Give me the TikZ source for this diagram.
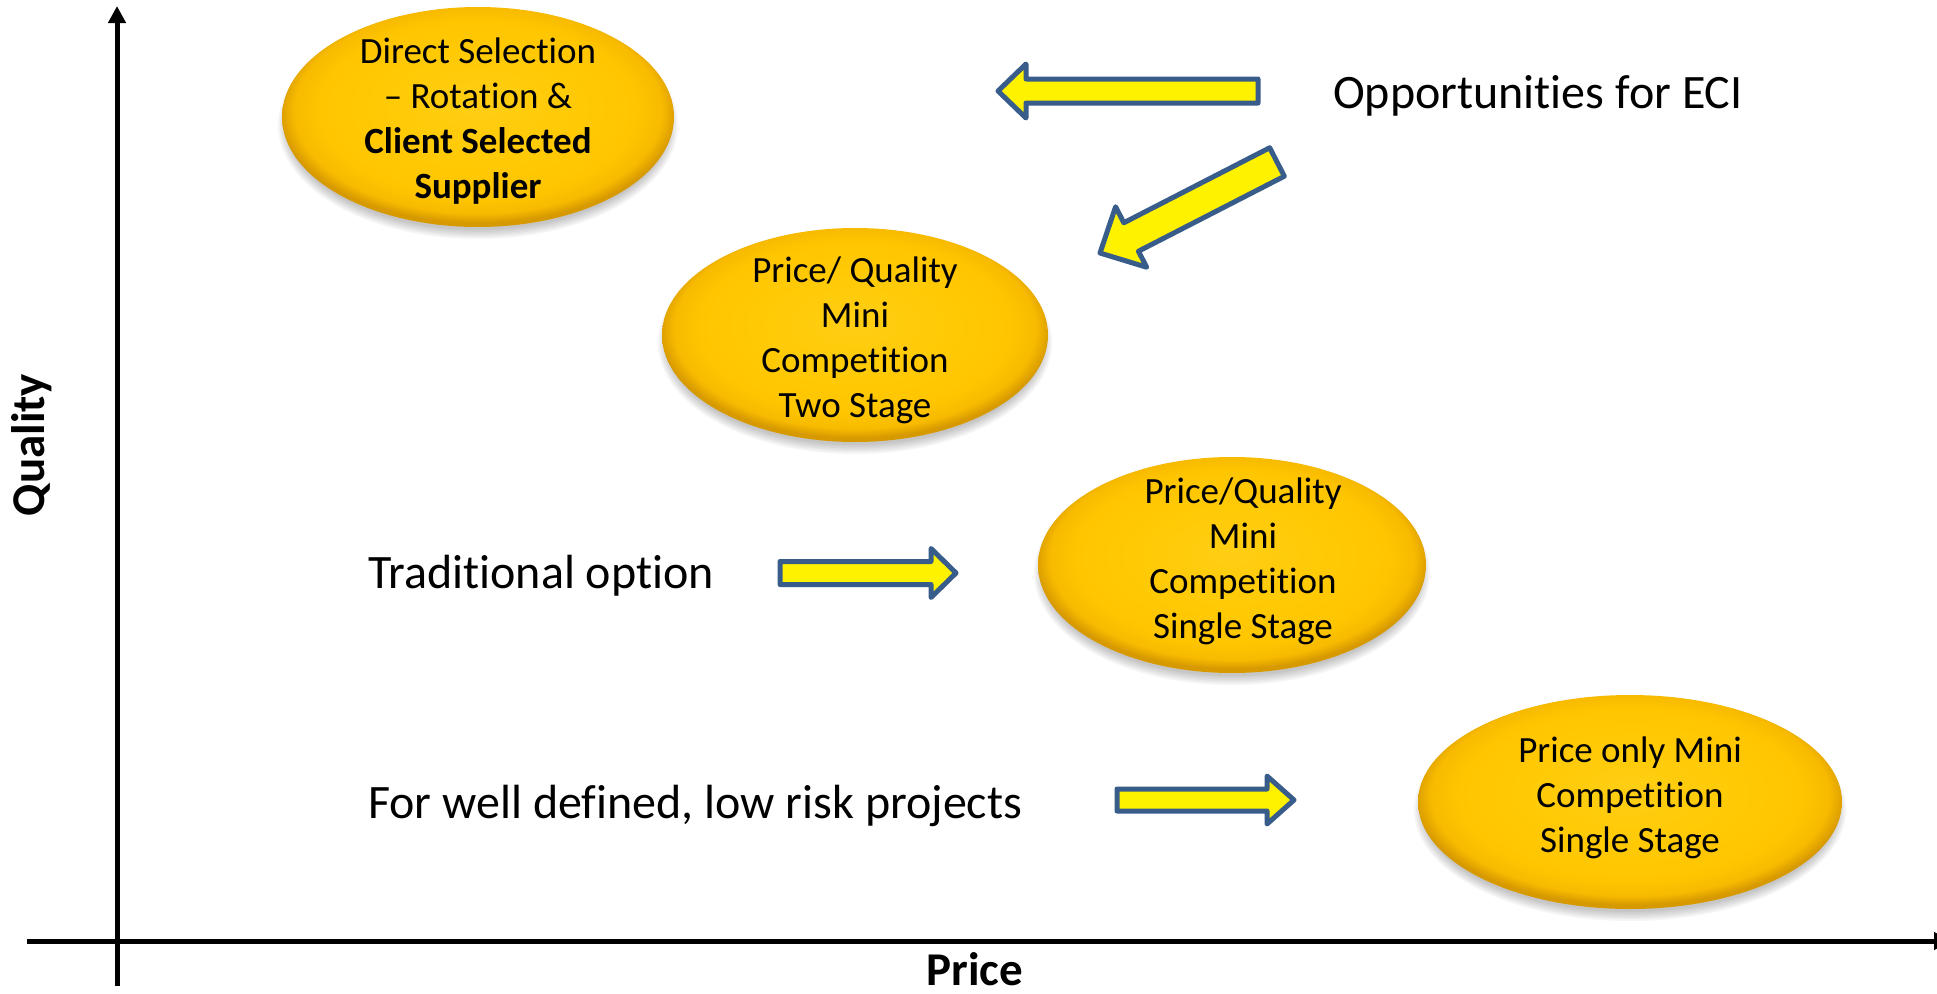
\documentclass[tikz,border=0pt]{standalone}
\usepackage{fontspec}
\setmainfont{Carlito}[Ligatures={NoCommon}]
\usetikzlibrary{calc,arrows.meta,shapes.geometric}
\pgfdeclareradialshading{goldell}{\pgfpoint{0bp}{3bp}}{rgb(0bp)=(1,0.81,0.08); rgb(12bp)=(1,0.79,0.02); rgb(20bp)=(1,0.775,0); rgb(23.5bp)=(0.97,0.73,0); rgb(25.5bp)=(0.84,0.60,0); rgb(50bp)=(0.84,0.60,0)}
\definecolor{arrblue}{RGB}{56,93,138}
\newcommand\softshadow[4]{%
  \foreach \k in {0,...,5}{%
    \fill[black,opacity=0.04] (#1,#2+8) ellipse ({#3-5+1.8*\k} and {#4-5+1.8*\k});
  }}
\newcommand\yarrow[5]{% tail, tip, half shaft, half head, head length
  \path (#1) coordinate (ta) (#2) coordinate (tp);
  \path ($(tp)!#5pt!(ta)$) coordinate (hb);
  \draw[yarr] ($(ta)!#3pt!90:(tp)$) -- ($(hb)!#3pt!90:(tp)$) -- ($(hb)!#4pt!90:(tp)$)
    -- (tp) -- ($(hb)!#4pt!-90:(tp)$) -- ($(hb)!#3pt!-90:(tp)$) -- ($(ta)!#3pt!-90:(tp)$) -- cycle;
}
\begin{document}
\begin{tikzpicture}[x=1pt,y=-1pt,
  axis/.style={line width=5pt, -{Triangle[length=17pt,width=17pt]}},
  yarr/.style={draw=arrblue, fill=yellow, line width=5pt, line join=round},
  goldell/.style={ellipse, shading=goldell, inner sep=0pt},
  elltext/.style={inner sep=0pt, align=center, font=\fontsize{37}{45}\selectfont},
  biglab/.style={inner sep=0pt, font=\fontsize{48}{58}\selectfont, anchor=base west},
  axlab/.style={inner sep=0pt, font=\fontsize{47}{56}\selectfont\bfseries, anchor=base}
]
\useasboundingbox (0,0) rectangle (1937,993);
\fill[white] (0,0) rectangle (1937,993);

% axes
\coordinate (ybot) at (117,986);
\coordinate (ytop) at (117,6);
\coordinate (xleft) at (27,941);
\coordinate (xright) at (1951,941);
\draw[axis] (ybot) -- (ytop);
\draw[axis] (xleft) -- (xright);
\node[axlab, rotate=90] (qual) at (44,445) {Quality};
\node[axlab] (price) at (975,985) {Price};

% ellipses
\softshadow{478}{117}{196}{110}
\softshadow{855}{335}{193}{107}
\softshadow{1232}{565}{194}{108}
\softshadow{1630}{802}{212}{107}
\node[goldell, minimum width=392pt, minimum height=220pt] (e1) at (478,117) {};
\node[goldell, minimum width=386pt, minimum height=214pt] (e2) at (855,335) {};
\node[goldell, minimum width=388pt, minimum height=216pt] (e3) at (1232,565) {};
\node[goldell, minimum width=424pt, minimum height=214pt] (e4) at (1630,802) {};
\node[elltext] (t1) at (478,121.5) {Direct Selection\\– Rotation \&\\\textbf{Client Selected}\\\textbf{Supplier}};
\node[elltext] (t2) at (855,340.5) {Price/ Quality\\Mini\\Competition\\Two Stage};
\node[elltext] (t3) at (1243,561) {Price/Quality\\Mini\\Competition\\Single Stage};
\node[elltext] (t4) at (1630,798) {Price only Mini\\Competition\\Single Stage};

% labels
\node[biglab] (eci) at (1333,108) {Opportunities for ECI};
\node[biglab] (trad) at (368,588) {Traditional option};
\node[biglab] (well) at (368,818) {For well defined, low risk projects};

% block arrows
\yarrow{1258,91}{998,91}{12}{27}{28}
\yarrow{1277,162}{1100,253}{16}{34}{35}
\yarrow{780,573}{956,573}{11.5}{24.5}{25}
\yarrow{1117,800}{1294,800}{11}{24}{27}
\end{tikzpicture}
\end{document}
